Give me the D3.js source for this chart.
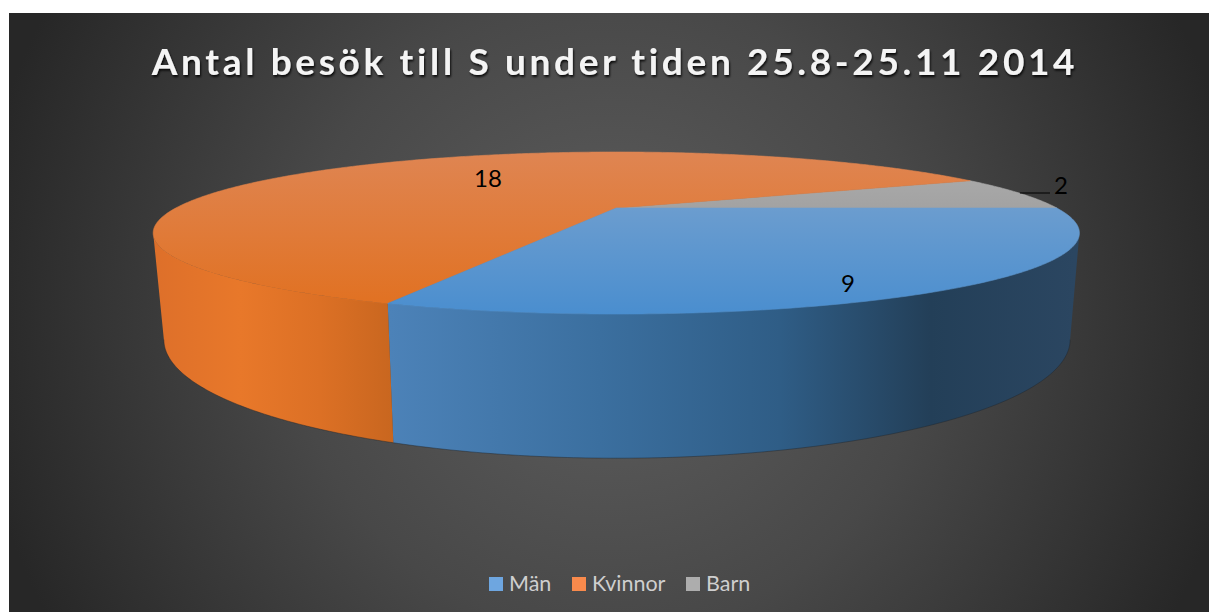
<!DOCTYPE html>
<html>
<head>
<meta charset="utf-8">
<script src="https://cdnjs.cloudflare.com/ajax/libs/d3/7.8.5/d3.min.js"></script>
<style>
  html, body { margin: 0; padding: 0; background: #fff; }
  svg { display: block; }
  text { font-family: Lato, "Open Sans", sans-serif; }
</style>
</head>
<body>
<svg id="chart"></svg>
<script>
const titleText = "Antal besök till S under tiden 25.8-25.11 2014";
const categories = ["Män", "Kvinnor", "Barn"];
const values = [9, 18, 2];
const legendColors = ["#6ea6e0", "#f98a4c", "#adadad"];

const width = 1209;
const height = 612;
const svg = d3.select("#chart").attr("width", width).attr("height", height);
const defs = svg.append("defs");

// background, radial from the middle
const bg = defs.append("radialGradient").attr("id", "bg")
    .attr("gradientUnits", "userSpaceOnUse")
    .attr("cx", 610).attr("cy", 312).attr("r", 640);
bg.append("stop").attr("offset", 0).attr("stop-color", "#5f5f5f");
bg.append("stop").attr("offset", 0.5).attr("stop-color", "#484848");
bg.append("stop").attr("offset", 1).attr("stop-color", "#272727");

svg.append("rect")
    .attr("x", 9).attr("y", 13)
    .attr("width", width - 9).attr("height", height - 13)
    .attr("fill", "url(#bg)");

const shadow = defs.append("filter").attr("id", "shadow")
    .attr("x", "-5%").attr("y", "-20%").attr("width", "110%").attr("height", "150%");
shadow.append("feDropShadow")
    .attr("dx", 1).attr("dy", 2).attr("stdDeviation", 1.2)
    .attr("flood-color", "#000").attr("flood-opacity", 0.85);

function hGradient(id, stops) {
    const g = defs.append("linearGradient").attr("id", id)
        .attr("gradientUnits", "userSpaceOnUse")
        .attr("x1", stops[0][0]).attr("x2", stops[stops.length - 1][0])
        .attr("y1", 0).attr("y2", 0);
    const span = stops[stops.length - 1][0] - stops[0][0];
    stops.forEach(s => g.append("stop")
        .attr("offset", (s[0] - stops[0][0]) / span)
        .attr("stop-color", s[1]));
}

function vGradient(id, y1, y2, c1, c2) {
    const g = defs.append("linearGradient").attr("id", id)
        .attr("gradientUnits", "userSpaceOnUse")
        .attr("x1", 0).attr("x2", 0).attr("y1", y1).attr("y2", y2);
    g.append("stop").attr("offset", 0).attr("stop-color", c1);
    g.append("stop").attr("offset", 1).attr("stop-color", c2);
}

vGradient("top0", 205, 314, "#6c9dcf", "#4a8ecf");
vGradient("top1", 152, 314, "#df8552", "#e1701f");
vGradient("top2", 180, 210, "#a8a8a8", "#a2a2a2");
hGradient("side0", [[390, "#4c82b8"], [600, "#3b6f9f"], [780, "#2f5d86"], [930, "#233f58"], [1075, "#2b4661"]]);
hGradient("side1", [[150, "#dd6f2a"], [240, "#e8782a"], [320, "#dc7025"], [395, "#c8661f"]]);

// perspective of the two discs, top face and bottom face
const topDisc = { cx: 616.3, cy: 208, R: 440.5, Rq: 73.3, k: 0.3087 };
const botDisc = { cx: 617, cy: 303, R: 431, Rq: 107.3, k: 0.3087 };

function project(disc, a) {
    const x = Math.cos(a), y = Math.sin(a);
    const w = 1 - disc.k * y;
    return [disc.cx + disc.R * x / w, disc.cy + disc.Rq * y / w];
}

function arcPoints(disc, a0, a1) {
    const n = Math.max(2, Math.ceil(Math.abs(a1 - a0) / 0.01));
    return d3.range(n + 1).map(i => project(disc, a0 + (a1 - a0) * i / n));
}

const pie = d3.pie().sort(null)
    .startAngle(Math.PI / 2)
    .endAngle(Math.PI / 2 + 2 * Math.PI);
// d3 angles run from 12 o'clock, the disc from 3 o'clock
const slices = pie(values).map(d => ({
    i: d.index,
    a0: d.startAngle - Math.PI / 2,
    a1: d.endAngle - Math.PI / 2
}));

const line = d3.line();
// widest points of the discs, the side shows between them
const visibleFrom = Math.asin(topDisc.k), visibleTo = Math.PI - visibleFrom;

// sides first, only the part that faces us
slices.forEach(s => {
    const a0 = Math.max(s.a0, visibleFrom);
    const a1 = Math.min(s.a1, visibleTo);
    if (a1 <= a0) return;
    const pts = arcPoints(topDisc, a0, a1).concat(arcPoints(botDisc, a1, a0));
    svg.append("path")
        .attr("d", line(pts) + "Z")
        .attr("fill", `url(#side${s.i})`);
    svg.append("path")
        .attr("d", line(arcPoints(botDisc, a0, a1)))
        .attr("fill", "none")
        .attr("stroke", "#20262c")
        .attr("stroke-opacity", 0.45)
        .attr("stroke-width", 1);
});

// top face
slices.slice().reverse().forEach(s => {
    const pts = [[topDisc.cx, topDisc.cy]].concat(arcPoints(topDisc, s.a0, s.a1));
    svg.append("path")
        .attr("d", line(pts) + "Z")
        .attr("fill", `url(#top${s.i})`)
        .attr("stroke", `url(#top${s.i})`)
        .attr("stroke-width", 0.6);
});

// leader line of the small slice
svg.append("line")
    .attr("x1", 1020).attr("x2", 1050)
    .attr("y1", 193).attr("y2", 193)
    .attr("stroke", "#000").attr("stroke-width", 1);

// data labels, placed by hand the way the original has them
const labelAt = [[848, 292], [488, 187], [1061, 194]];
slices.forEach(s => {
    svg.append("text")
        .attr("x", labelAt[s.i][0]).attr("y", labelAt[s.i][1])
        .attr("text-anchor", "middle")
        .attr("font-size", 24)
        .attr("fill", "#000")
        .text(values[s.i]);
});

svg.append("text")
    .attr("x", 615).attr("y", 75)
    .attr("text-anchor", "middle")
    .attr("font-size", 37)
    .attr("font-weight", 700)
    .attr("letter-spacing", 3.65)
    .attr("fill", "#f4f4f4")
    .attr("filter", "url(#shadow)")
    .text(titleText);

// legend
const legendX = [489, 572, 686];
const legend = svg.append("g").selectAll("g")
    .data(categories)
    .join("g")
    .attr("transform", (d, i) => `translate(${legendX[i]},577)`);
legend.append("rect")
    .attr("width", 14).attr("height", 14)
    .attr("fill", (d, i) => legendColors[i]);
legend.append("text")
    .attr("x", 20).attr("y", 14)
    .attr("font-size", 21.5)
    .attr("fill", "#cfcfcf")
    .text(d => d);
</script>
</body>
</html>
